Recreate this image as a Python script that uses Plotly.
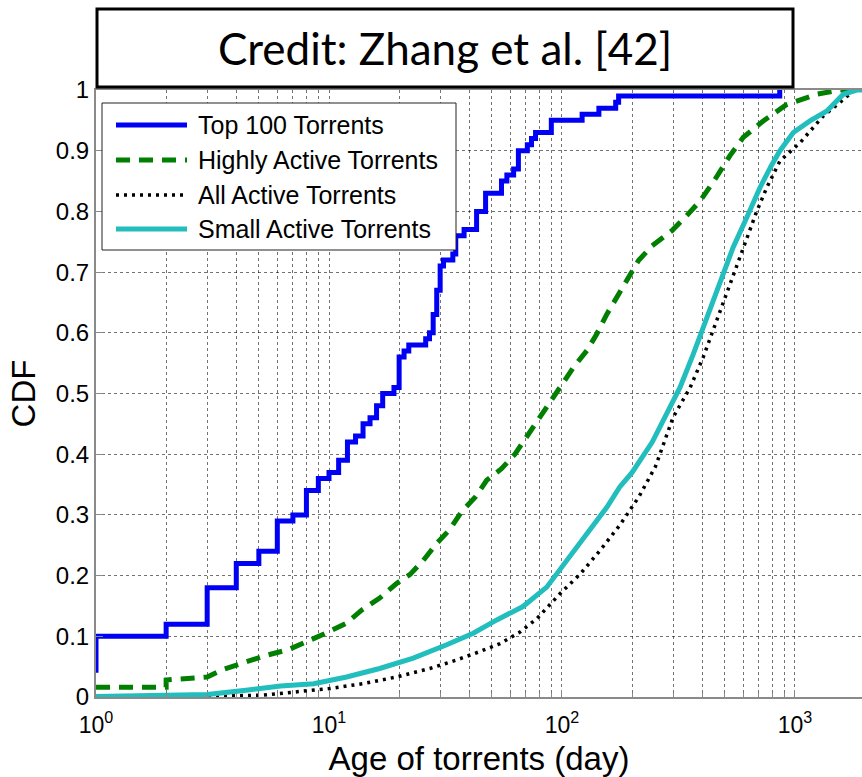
import plotly.graph_objects as go

# ---------------- data ----------------
top100_x = [1, 1, 2, 3, 4, 5, 6, 7, 8, 9, 10, 11, 12, 13, 14, 15, 16, 17, 19, 20, 21, 22,
            26, 27, 28, 29, 30, 31, 34, 35, 38, 43, 47, 55, 58, 62, 65, 71, 74, 77, 90,
            122, 144, 170, 175, 860, 860]
top100_y = [0.04, 0.10, 0.12, 0.18, 0.22, 0.24, 0.29, 0.30, 0.34, 0.36, 0.37, 0.39, 0.42,
            0.43, 0.45, 0.46, 0.48, 0.50, 0.51, 0.56, 0.57, 0.58, 0.59, 0.60, 0.63, 0.67,
            0.71, 0.72, 0.73, 0.76, 0.77, 0.80, 0.83, 0.85, 0.86, 0.87, 0.90, 0.91, 0.92,
            0.93, 0.95, 0.96, 0.97, 0.98, 0.99, 0.99, 1.0]

high_x = [1, 2, 2, 3, 3.5, 4.3, 5.3, 6.7, 8.1, 9.8, 11.8, 13.8, 16.5, 19.5, 22.3, 25.4, 29,
          33, 37, 42.4, 47.5, 55, 62.8, 70.5, 79, 90, 98, 112, 128, 141, 156, 172, 193, 213,
          243, 255, 296, 343, 391, 454, 526, 600, 731, 921, 1239, 1560, 1940]
high_y = [0.016, 0.016, 0.028, 0.033, 0.045, 0.056, 0.068, 0.078, 0.091, 0.106, 0.121,
          0.143, 0.163, 0.187, 0.202, 0.225, 0.253, 0.276, 0.305, 0.329, 0.357, 0.376, 0.40,
          0.428, 0.458, 0.488, 0.51, 0.543, 0.571, 0.598, 0.631, 0.658, 0.689, 0.719, 0.743,
          0.749, 0.768, 0.793, 0.817, 0.853, 0.892, 0.922, 0.949, 0.976, 0.993, 1.0, 1.0]

all_x = [1, 3, 5.2, 7.3, 10.1, 14, 19.5, 27.1, 35.3, 44.5, 54.2, 66, 78, 98, 120, 146, 177,
         214, 252, 300, 355, 404, 461, 526, 600, 685, 756, 862, 1050, 1322, 1565, 1800, 1940]
all_y = [0.0, 0.001, 0.003, 0.009, 0.014, 0.022, 0.033, 0.047, 0.061, 0.075, 0.088, 0.107,
         0.129, 0.17, 0.203, 0.242, 0.283, 0.33, 0.38, 0.461, 0.51, 0.56, 0.62, 0.68, 0.741,
         0.80, 0.839, 0.883, 0.913, 0.957, 0.98, 1.0, 1.0]

small_x = [1, 2, 3, 4.4, 6.2, 8.6, 11.9, 16.5, 23, 32, 41.6, 52.5, 68, 86, 105, 128, 156,
           177, 200, 244, 272, 321, 366, 418, 476, 543, 621, 707, 790, 862, 984, 1159, 1367,
           1612, 1841, 1940]
small_y = [0.001, 0.002, 0.004, 0.011, 0.018, 0.022, 0.033, 0.047, 0.064, 0.086, 0.105,
           0.127, 0.149, 0.181, 0.225, 0.269, 0.313, 0.346, 0.37, 0.42, 0.456, 0.51, 0.565,
           0.625, 0.686, 0.741, 0.79, 0.839, 0.875, 0.90, 0.93, 0.949, 0.965, 0.993, 1.0, 1.0]

series_names = ["Top 100 Torrents", "Highly Active Torrents", "All Active Torrents",
                "Small Active Torrents"]
x_tickvals = [1, 10, 100, 1000]
x_ticktext = ["10<sup>0</sup>", "10<sup>1</sup>", "10<sup>2</sup>", "10<sup>3</sup>"]
title_text = "Credit: Zhang et al. [42]"
x_title = "Age of torrents (day)"
y_title = "CDF"

# ---------------- styles ----------------
BLUE = "#0000F5"
GREEN = "#007F00"
BLACK = "#000000"
CYAN = "#22BDBD"
styles = [
    dict(color=BLUE, width=5, dash="solid", shape="hv"),
    dict(color=GREEN, width=5, dash="14px,9px", shape="linear"),
    dict(color=BLACK, width=3.5, dash="3px,5px", shape="linear"),
    dict(color=CYAN, width=5, dash="solid", shape="linear"),
]

fig = go.Figure()
for name, xs, ys, st in zip(series_names,
                            [top100_x, high_x, all_x, small_x],
                            [top100_y, high_y, all_y, small_y],
                            styles):
    fig.add_trace(go.Scatter(x=xs, y=ys, mode="lines", name=name,
                             line=dict(color=st["color"], width=st["width"],
                                       dash=st["dash"], shape=st["shape"]),
                             showlegend=False))

minor_vals = [m * 10 ** k for k in range(4) for m in range(2, 10) if m * 10 ** k < 1940]
GRID = "rgba(0,0,0,0.55)"
AXIS = "#8a8a8a"
FONT = "Liberation Sans, Arial, sans-serif"

fig.update_xaxes(type="log", range=[0, 3.2876], tickvals=x_tickvals, ticktext=x_ticktext,
                 automargin=False, ticklabelstandoff=6,
                 showgrid=True, gridcolor=GRID, griddash="dot", gridwidth=1,
                 ticks="inside", ticklen=7, tickcolor=AXIS,
                 minor=dict(tickvals=minor_vals, showgrid=True, gridcolor=GRID,
                            griddash="dot", gridwidth=1, ticks="inside", ticklen=4,
                            tickcolor=AXIS),
                 showline=True, linecolor=AXIS, linewidth=2, mirror=True,
                 zeroline=False, tickfont=dict(family=FONT, size=23, color="black"),
                 title=dict(text=x_title, font=dict(family=FONT, size=33, color="black"),
                            standoff=13))
fig.update_yaxes(range=[0, 1], dtick=0.1, tick0=0, automargin=False,
                 showgrid=True, gridcolor=GRID, griddash="dot", gridwidth=1,
                 ticks="inside", ticklen=7, tickcolor=AXIS,
                 showline=True, linecolor=AXIS, linewidth=2,
                 zeroline=False, tickfont=dict(family=FONT, size=24, color="black"),
                 title=dict(text=y_title, font=dict(family=FONT, size=33, color="black"),
                            standoff=10))

# ---------------- manual legend ----------------
PH = 607.0
PW = 766.0
def px_x(p):
    return (p - 96) / PW
def px_y(p):
    return (697 - p) / PH

shapes = []
annotations = []
shapes.append(dict(type="rect", xref="paper", yref="paper",
                   x0=px_x(102), x1=px_x(456), y0=px_y(250), y1=px_y(103),
                   fillcolor="white", line=dict(color="#222", width=1)))
row_y = [125, 160, 195, 229]
for name, st, ry in zip(series_names, styles, row_y):
    shapes.append(dict(type="line", xref="paper", yref="paper",
                       x0=px_x(116), x1=px_x(187), y0=px_y(ry), y1=px_y(ry),
                       line=dict(color=st["color"], width=st["width"], dash=st["dash"])))
    annotations.append(dict(text=name, xref="paper", yref="paper", x=px_x(196), y=px_y(ry),
                            xanchor="left", yanchor="middle", showarrow=False,
                            font=dict(family=FONT, size=25, color="black")))

# ---------------- title box ----------------
shapes.append(dict(type="rect", xref="paper", yref="paper",
                   x0=px_x(97), x1=px_x(793), y0=px_y(87), y1=px_y(9),
                   fillcolor="white", line=dict(color="black", width=3)))
annotations.append(dict(text=title_text, xref="paper", yref="paper",
                        x=px_x(445), y=px_y(48), xanchor="center", yanchor="middle",
                        showarrow=False, font=dict(family="Lato, sans-serif", size=44,
                                                   color="black")))

fig.update_layout(width=862, height=777, margin=dict(l=96, r=0, t=90, b=80),
                  plot_bgcolor="white", paper_bgcolor="white",
                  shapes=shapes, annotations=annotations, showlegend=False)

fig.write_html("out.html", config={"displayModeBar": False},
               post_script="document.body.style.margin='0px';document.body.style.padding='0px';")
